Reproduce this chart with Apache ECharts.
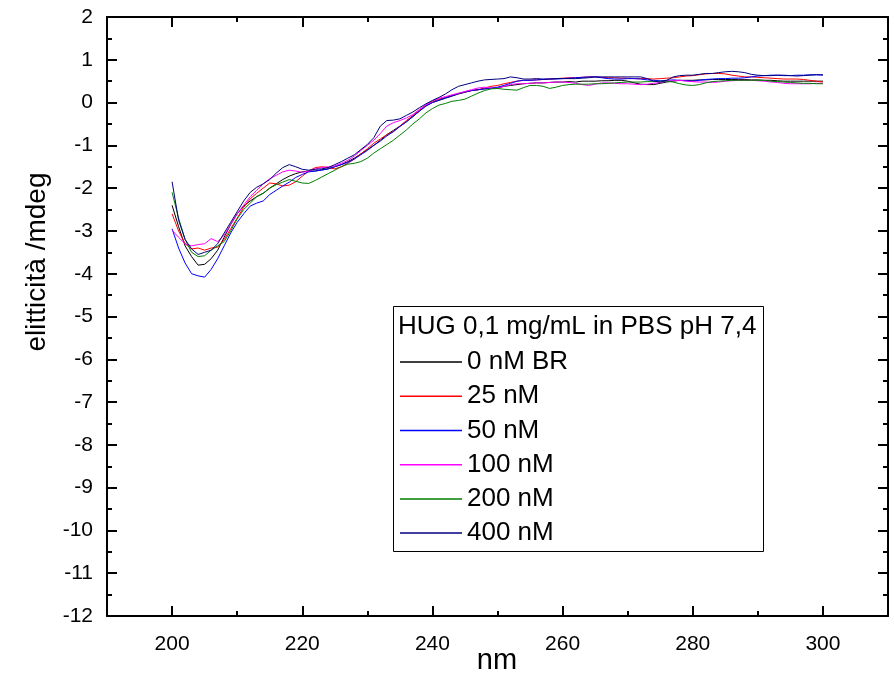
<!DOCTYPE html>
<html>
<head>
<meta charset="utf-8">
<title>elitticità</title>
<script src="https://cdn.jsdelivr.net/npm/echarts@6/dist/echarts.min.js"></script>
<style>
  html, body { margin: 0; padding: 0; background: #fff; }
  #chart { width: 894px; height: 678px; }
</style>
</head>
<body>
<div id="chart"></div>
<script>
// lunghezza d'onda (nm)
const nm = [
  200, 201, 202, 203, 204, 205, 206, 207, 208, 209,
  210, 211, 212, 213, 214, 215, 216, 217, 218, 219,
  220, 221, 222, 223, 224, 225, 226, 227, 228, 229,
  230, 231, 232, 233, 234, 235, 236, 237, 238, 239,
  240, 241, 242, 243, 244, 245, 246, 247, 248, 249,
  250, 251, 252, 253, 254, 255, 256, 257, 258, 259,
  260, 261, 262, 263, 264, 265, 266, 267, 268, 269,
  270, 271, 272, 273, 274, 275, 276, 277, 278, 279,
  280, 281, 282, 283, 284, 285, 286, 287, 288, 289,
  290, 291, 292, 293, 294, 295, 296, 297, 298, 299,
  300
]

const seriesNames = ['0 nM BR', '25 nM', '50 nM', '100 nM', '200 nM', '400 nM']
const seriesColors = ['#000000', '#ff0000', '#0000ff', '#ff00ff', '#008000', '#000080']

const nM0 = [
  -2.4, -2.9, -3.35, -3.6, -3.8, -3.78, -3.65, -3.45, -3.15, -2.85,
  -2.6, -2.42, -2.3, -2.2, -2.12, -2.0, -1.9, -1.8, -1.72, -1.66,
  -1.62, -1.6, -1.6, -1.57, -1.55, -1.5, -1.45, -1.38, -1.3, -1.2,
  -1.1, -1.0, -0.88, -0.75, -0.65, -0.55, -0.45, -0.33, -0.2, -0.08,
  0.0, 0.05, 0.1, 0.15, 0.2, 0.24, 0.28, 0.3, 0.32, 0.33,
  0.34, 0.38, 0.4, 0.42, 0.44, 0.45, 0.46, 0.46, 0.47, 0.48,
  0.48, 0.49, 0.48, 0.5, 0.5, 0.5, 0.51, 0.51, 0.52, 0.52,
  0.5, 0.46, 0.43, 0.42, 0.42, 0.45, 0.48, 0.5, 0.52, 0.52,
  0.52, 0.53, 0.53, 0.54, 0.54, 0.54, 0.54, 0.54, 0.54, 0.53,
  0.53, 0.52, 0.52, 0.51, 0.5, 0.5, 0.5, 0.5, 0.5, 0.5,
  0.5
]
const nM25 = [
  -2.6, -3.0, -3.3, -3.42, -3.4, -3.45, -3.4, -3.38, -3.2, -2.95,
  -2.7, -2.45, -2.25, -2.12, -2.0, -1.88, -1.9, -1.95, -1.93, -1.85,
  -1.72, -1.6, -1.52, -1.5, -1.52, -1.55, -1.5, -1.42, -1.32, -1.2,
  -1.08, -0.95, -0.85, -0.75, -0.68, -0.55, -0.42, -0.3, -0.18, -0.06,
  0.02, 0.08, 0.12, 0.17, 0.21, 0.25, 0.28, 0.3, 0.34, 0.38,
  0.4, 0.44, 0.47, 0.5, 0.52, 0.52, 0.53, 0.54, 0.55, 0.56,
  0.57, 0.58, 0.58, 0.59, 0.6, 0.6, 0.59, 0.58, 0.58, 0.57,
  0.57, 0.56, 0.56, 0.56, 0.55, 0.56, 0.57, 0.58, 0.6, 0.62,
  0.63, 0.65, 0.67, 0.68, 0.68, 0.67, 0.64, 0.62, 0.6, 0.6,
  0.59, 0.58, 0.57, 0.56, 0.55, 0.55, 0.55, 0.54, 0.52, 0.5,
  0.48
]
const nM50 = [
  -2.95, -3.4, -3.75, -4.0, -4.05, -4.08, -3.9, -3.65, -3.35, -3.05,
  -2.8, -2.6, -2.42, -2.35, -2.3, -2.15, -2.05, -1.95, -1.86, -1.75,
  -1.68, -1.62, -1.6, -1.58, -1.55, -1.5, -1.45, -1.4, -1.32, -1.22,
  -1.12, -1.0, -0.9, -0.78, -0.68, -0.56, -0.45, -0.32, -0.2, -0.08,
  0.0, 0.06, 0.11, 0.16, 0.21, 0.25, 0.28, 0.3, 0.32, 0.34,
  0.36, 0.4, 0.45, 0.5, 0.52, 0.52, 0.53, 0.54, 0.55, 0.55,
  0.56, 0.57, 0.58, 0.59, 0.6, 0.6, 0.58, 0.56, 0.55, 0.55,
  0.56, 0.56, 0.55, 0.53, 0.52, 0.51, 0.52, 0.53, 0.52, 0.51,
  0.5, 0.52, 0.54, 0.55, 0.56, 0.56, 0.57, 0.57, 0.58, 0.6,
  0.62, 0.63, 0.64, 0.64, 0.63, 0.63, 0.64, 0.64, 0.65, 0.65,
  0.64
]
const nM100 = [
  -2.98, -3.15, -3.3, -3.35, -3.32, -3.3, -3.18, -3.25, -3.1, -2.85,
  -2.6, -2.4, -2.2, -2.05, -1.9, -1.78, -1.7, -1.62, -1.58, -1.6,
  -1.63, -1.6, -1.55, -1.52, -1.5, -1.48, -1.42, -1.35, -1.25, -1.12,
  -1.0, -0.88, -0.72, -0.55, -0.47, -0.42, -0.36, -0.28, -0.16, -0.05,
  0.04, 0.1, 0.14, 0.18, 0.22, 0.26, 0.3, 0.34, 0.36, 0.34,
  0.33, 0.38, 0.42, 0.44, 0.44, 0.45, 0.46, 0.46, 0.47, 0.48,
  0.48, 0.47, 0.45, 0.42, 0.4, 0.43, 0.46, 0.46, 0.45, 0.44,
  0.44, 0.43, 0.42, 0.43, 0.45, 0.47, 0.5, 0.51, 0.52, 0.5,
  0.49, 0.48, 0.48, 0.47, 0.48, 0.5, 0.51, 0.52, 0.52, 0.52,
  0.51, 0.5, 0.48, 0.47, 0.45, 0.44, 0.44, 0.44, 0.44, 0.45,
  0.45
]
const nM200 = [
  -2.1, -2.7, -3.2, -3.5, -3.6, -3.58, -3.45, -3.35, -3.25, -3.0,
  -2.72, -2.5, -2.35, -2.2, -2.12, -2.0, -1.92, -1.86, -1.8, -1.84,
  -1.88, -1.89, -1.82, -1.74, -1.66, -1.58, -1.5, -1.44, -1.42, -1.38,
  -1.3, -1.18, -1.08, -0.98, -0.88, -0.76, -0.64, -0.5, -0.38, -0.24,
  -0.14, -0.06, -0.02, 0.03, 0.05, 0.08, 0.15, 0.22, 0.28, 0.32,
  0.33, 0.31, 0.3, 0.29, 0.35, 0.4, 0.4, 0.38, 0.33, 0.36,
  0.4, 0.42, 0.43, 0.43, 0.43, 0.44, 0.44, 0.45, 0.46, 0.47,
  0.48, 0.48, 0.48, 0.49, 0.49, 0.5, 0.5, 0.48, 0.44, 0.41,
  0.4, 0.42, 0.46, 0.49, 0.5, 0.51, 0.52, 0.52, 0.52, 0.52,
  0.52, 0.52, 0.5, 0.49, 0.48, 0.47, 0.46, 0.45, 0.45, 0.44,
  0.44
]
const nM400 = [
  -1.85, -2.75, -3.2, -3.42, -3.55, -3.5, -3.45, -3.3, -3.05, -2.8,
  -2.55, -2.3, -2.1, -1.98, -1.9, -1.8, -1.65, -1.52, -1.45, -1.5,
  -1.56, -1.58, -1.56, -1.55, -1.52, -1.45, -1.38, -1.3, -1.22, -1.1,
  -0.98, -0.82, -0.55, -0.42, -0.41, -0.38, -0.3, -0.22, -0.12, -0.03,
  0.05, 0.12, 0.2, 0.3, 0.38, 0.42, 0.46, 0.5, 0.53, 0.54,
  0.55, 0.56, 0.6, 0.58, 0.55, 0.55, 0.56, 0.55, 0.55, 0.56,
  0.56, 0.56, 0.56, 0.57, 0.58, 0.6, 0.6, 0.6, 0.6, 0.6,
  0.6, 0.6, 0.6, 0.56, 0.5, 0.48, 0.52, 0.6, 0.63, 0.64,
  0.64, 0.66, 0.68, 0.68, 0.7, 0.72, 0.73, 0.72, 0.7, 0.66,
  0.64, 0.63, 0.63, 0.64, 0.64, 0.63, 0.62, 0.63, 0.64, 0.65,
  0.65
]

const seriesValues = [nM0, nM25, nM50, nM100, nM200, nM400]

// x tick labels; ticks every 10 nm from 190 to 310
const xLabels = [200, 220, 240, 260, 280, 300]
const xRange = { min: 190, max: 310, interval: 20 }
const yTicks = { min: -12, max: 2, interval: 1 }

const FONT = '"Liberation Sans", Arial, Helvetica, sans-serif'
const legendTitle = 'HUG 0,1 mg/mL in PBS pH 7,4'

const chart = echarts.init(document.getElementById('chart'))

const gridRect = { left: 107, top: 17, width: 781, height: 599, containLabel: false, outerBoundsMode: 'none' }
const axisLine = { show: true, onZero: false, lineStyle: { color: '#000', width: 2 } }
const tickStyle = { color: '#000', width: 2 }

// ticks counted from 190: 190, 210, ... are the short ones,
// the minor ticks in between (200, 220, ...) are the long ones
const xTickAxis = (position) => ({
  type: 'value',
  gridIndex: 0,
  position,
  min: xRange.min,
  max: xRange.max,
  interval: xRange.interval,
  axisLine,
  axisTick: { show: true, inside: true, length: 5, lineStyle: tickStyle },
  minorTick: { show: true, splitNumber: 2, length: 10, lineStyle: tickStyle },
  splitLine: { show: false },
  axisLabel: { show: false }
})

const yAxisOf = (position, withLabels) => ({
  type: 'value',
  gridIndex: 0,
  position,
  min: yTicks.min,
  max: yTicks.max,
  interval: yTicks.interval,
  axisLine,
  axisTick: { show: true, inside: true, length: 10, lineStyle: tickStyle },
  minorTick: { show: true, splitNumber: 2, length: 5, lineStyle: tickStyle },
  splitLine: { show: false },
  axisLabel: withLabels
    ? { fontFamily: FONT, fontSize: 21, color: '#000', margin: 14 }
    : { show: false }
})

const series = seriesValues.map((vals, i) => ({
  name: seriesNames[i],
  type: 'line',
  xAxisIndex: 0,
  yAxisIndex: 0,
  data: nm.map((x, j) => [x, vals[j]]),
  showSymbol: false,
  symbol: 'none',
  lineStyle: { color: seriesColors[i], width: 1 },
  itemStyle: { color: seriesColors[i] },
  z: 2 + i
}))

const option = {
  animation: false,
  backgroundColor: '#fff',
  // grid 1 lies on grid 0 and only carries the x labels
  grid: [gridRect, Object.assign({}, gridRect)],
  xAxis: [
    xTickAxis('bottom'),
    xTickAxis('top'),
    {
      type: 'value',
      gridIndex: 1,
      position: 'bottom',
      min: xRange.min,
      max: xRange.max,
      interval: xRange.interval,
      axisLine: { show: false, onZero: false },
      axisTick: { show: false },
      minorTick: { show: false },
      splitLine: { show: false },
      axisLabel: { fontFamily: FONT, fontSize: 21, color: '#000', margin: 18, customValues: xLabels }
    }
  ],
  yAxis: [
    yAxisOf('left', true),
    yAxisOf('right', false),
    {
      type: 'value', gridIndex: 1, min: yTicks.min, max: yTicks.max, interval: yTicks.interval,
      axisLine: { show: false }, axisTick: { show: false }, axisLabel: { show: false },
      splitLine: { show: false }
    }
  ],
  legend: {
    orient: 'vertical',
    left: 400,
    top: 345,
    padding: 0,
    itemGap: 0,
    itemWidth: 62,
    itemHeight: 1.5,
    icon: 'rect',
    data: seriesNames,
    selectedMode: false,
    textStyle: { fontFamily: FONT, fontSize: 26, color: '#000', lineHeight: 34.2 }
  },
  graphic: [
    {
      type: 'rect',
      z: 1,
      shape: { x: 393.5, y: 306.5, width: 370, height: 245 },
      style: { fill: '#fff', stroke: '#000', lineWidth: 1 }
    },
    {
      type: 'text',
      z: 10,
      x: 398,
      y: 327,
      style: {
        text: legendTitle, fontFamily: FONT, fontSize: 26, fill: '#000',
        align: 'left', verticalAlign: 'middle'
      }
    },
    {
      type: 'text',
      z: 10,
      x: 497,
      y: 661,
      style: {
        text: 'nm', fontFamily: FONT, fontSize: 29, fill: '#000',
        align: 'center', verticalAlign: 'middle'
      }
    },
    {
      type: 'text',
      z: 10,
      x: 37,
      y: 262,
      rotation: Math.PI / 2,
      style: {
        text: 'elitticità /mdeg', fontFamily: FONT, fontSize: 28, fill: '#000',
        align: 'center', verticalAlign: 'middle'
      }
    }
  ],
  series
}

chart.setOption(option)
window.addEventListener('resize', () => chart.resize())
</script>
</body>
</html>
